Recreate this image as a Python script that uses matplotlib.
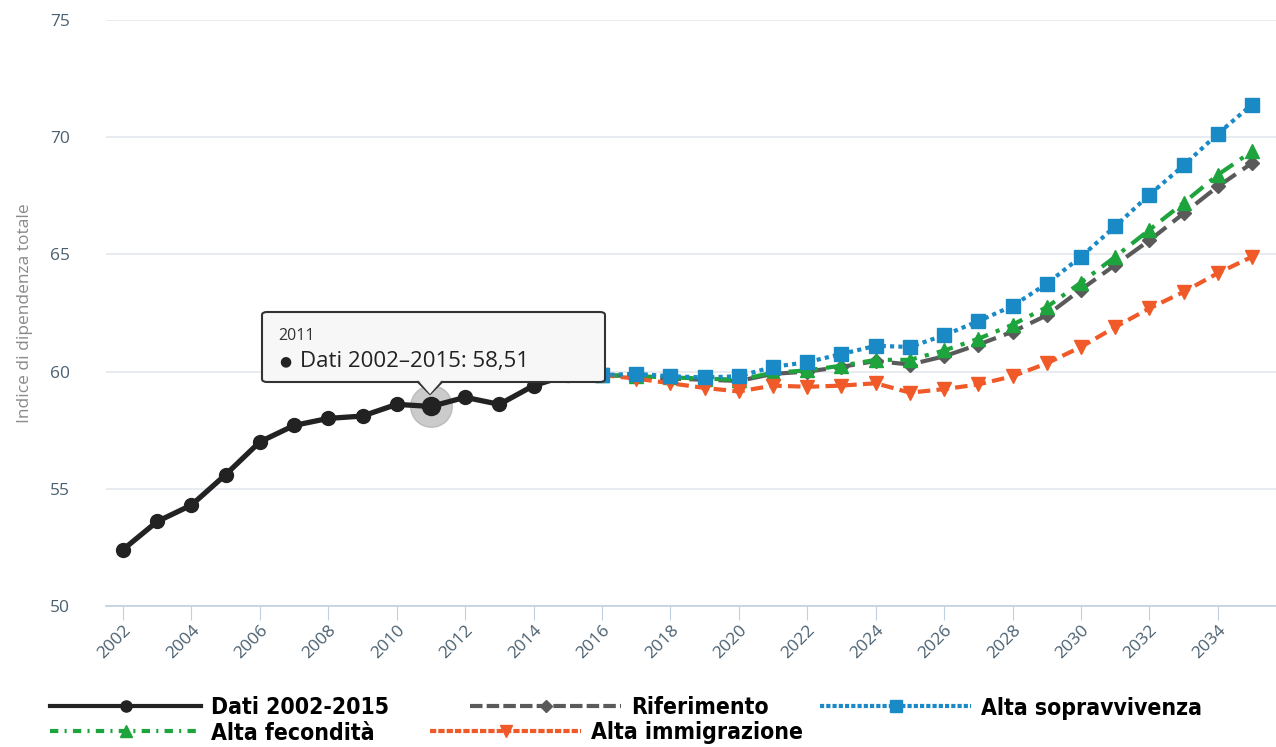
import matplotlib.pyplot as plt
from matplotlib.lines import Line2D
from matplotlib.patches import FancyBboxPatch, Polygon

plt.rcParams['font.family'] = ['Open Sans', 'DejaVu Sans']

# historical data
anni_dati = list(range(2002, 2016))
dati = [52.4, 53.6, 54.3, 55.6, 57.0, 57.7, 58.0, 58.1, 58.6, 58.51,
        58.9, 58.6, 59.4, 59.85]

# projections
anni_proj = list(range(2016, 2036))
riferimento = [59.85, 59.8, 59.7, 59.65, 59.6, 59.9, 60.0, 60.2, 60.45, 60.3,
               60.65, 61.15, 61.7, 62.4, 63.5, 64.55, 65.6, 66.75, 67.9, 68.9]
sopravvivenza = [59.85, 59.9, 59.8, 59.75, 59.8, 60.2, 60.4, 60.75, 61.1, 61.05,
                 61.55, 62.15, 62.8, 63.75, 64.9, 66.2, 67.55, 68.8, 70.15, 71.4]
fecondita = [59.85, 59.8, 59.75, 59.7, 59.65, 59.95, 60.05, 60.25, 60.5, 60.5,
             60.9, 61.4, 62.0, 62.75, 63.8, 64.9, 66.05, 67.2, 68.4, 69.4]
immigrazione = [59.85, 59.7, 59.5, 59.3, 59.15, 59.4, 59.35, 59.4, 59.5, 59.1,
                59.25, 59.45, 59.8, 60.35, 61.05, 61.9, 62.7, 63.4, 64.2, 64.9]

c_dati = '#222222'
c_rif = '#5a5a5a'
c_sop = '#1a8ac6'
c_fec = '#1ea43c'
c_imm = '#f05a28'

W, H = 1276, 747
fig = plt.figure(figsize=(12.76, 7.47), dpi=100)
ax = fig.add_axes([0.083, 0.189, 0.917, 0.784])

ax.plot(anni_proj, riferimento, color=c_rif, lw=3, ls=(0, (5, 2)),
        marker='D', ms=7, zorder=3)
ax.plot(anni_proj, fecondita, color=c_fec, lw=3, ls=(0, (4, 2, 1, 2)),
        marker='^', ms=10, zorder=4)
ax.plot(anni_proj, sopravvivenza, color=c_sop, lw=3, ls=(0, (1, 1)),
        marker='s', ms=10, zorder=5)
ax.plot(anni_proj, immigrazione, color=c_imm, lw=3, ls=(0, (3, 1.5)),
        marker='v', ms=10, zorder=4)
ax.plot(anni_dati, dati, color=c_dati, lw=3.8, marker='o', ms=10, zorder=6)

# hover halo on 2011
ax.plot([2011], [58.51], 'o', ms=30, color='#999999', alpha=0.5, zorder=5)
ax.plot([2011], [58.51], 'o', ms=13, color=c_dati, zorder=7)

ax.set_xlim(2001.5, 2035.7)
ax.set_ylim(50, 75)
ax.set_yticks([50, 55, 60, 65, 70, 75])
ax.set_xticks(list(range(2002, 2036, 2)))
ax.grid(axis='y', color='#e4e8ee', lw=1.2)
ax.set_axisbelow(True)
for s in ['top', 'right', 'left']:
    ax.spines[s].set_visible(False)
ax.spines['bottom'].set_color('#c0d0e0')
ax.spines['bottom'].set_linewidth(1.2)
ax.tick_params(axis='y', length=0, pad=26, labelsize=12.5, labelcolor='#4a6070')
ax.tick_params(axis='x', length=10, color='#c0d0e0', labelsize=12.5,
               labelcolor='#4a6070', pad=2)
for lab in ax.get_xticklabels():
    lab.set_rotation(45)
    lab.set_ha('right')
    lab.set_rotation_mode('anchor')
ax.set_ylabel('Indice di dipendenza totale', fontsize=12.5, color='#8a8a8a')
ax.yaxis.set_label_coords(-0.062, 0.5)

# tooltip
box = FancyBboxPatch((262 / W, 1 - 382 / H), 343 / W, 70 / H,
                     boxstyle='round,pad=0,rounding_size=0.004',
                     transform=fig.transFigure, facecolor='#f7f7f7',
                     edgecolor='#333333', lw=1.5, zorder=10)
fig.patches.append(box)
tri = [(418 / W, 1 - 380 / H), (442 / W, 1 - 380 / H), (430 / W, 1 - 394 / H)]
fig.patches.append(Polygon(tri, closed=True, transform=fig.transFigure,
                           facecolor='#f7f7f7', edgecolor='none', zorder=11))
fig.lines.append(Line2D([418 / W, 430 / W, 442 / W],
                        [1 - 382 / H, 1 - 394 / H, 1 - 382 / H],
                        transform=fig.transFigure, color='#333333', lw=1.5,
                        zorder=11))
fig.text(278 / W, 1 - 336 / H, '2011', fontsize=11.5, color='#333333',
         va='center', zorder=12)
fig.text(279 / W, 1 - 362 / H, '\u25cf', fontsize=10, color='#222222',
         va='center', zorder=12)
fig.text(300 / W, 1 - 362 / H, 'Dati 2002\u20132015: 58,51',
         fontsize=16, color='#222222', va='center', zorder=12)

# legend, each item placed like the original flow layout
def h(color, ls, marker, ms, lw=3):
    return Line2D([], [], color=color, ls=ls, marker=marker, ms=ms, lw=lw)

leg_font = {'family': ['DejaVu Sans'], 'stretch': 'condensed',
            'weight': 'bold', 'size': 16.5}
leg_items = [
    (h(c_dati, '-', 'o', 8), 'Dati 2002-2015', 50, 708),
    (h(c_rif, (0, (3, 1)), 'D', 6), 'Riferimento', 470, 708),
    (h(c_sop, (0, (1, 0.5)), 's', 9), 'Alta sopravvivenza', 820, 708),
    (h(c_fec, (0, (2, 1.5, 0.5, 1.5)), '^', 9), 'Alta fecondità', 50, 733),
    (h(c_imm, (0, (1.5, 0.5)), 'v', 9), 'Alta immigrazione', 430, 733),
]
for handle, label, lx, ly in leg_items:
    fig.legend([handle], [label], loc='center left',
               bbox_to_anchor=(lx / W, 1 - ly / H), frameon=False,
               borderpad=0, borderaxespad=0, handlelength=6.6,
               handletextpad=0.42, prop=leg_font)

fig.savefig('out.png', dpi=100)
